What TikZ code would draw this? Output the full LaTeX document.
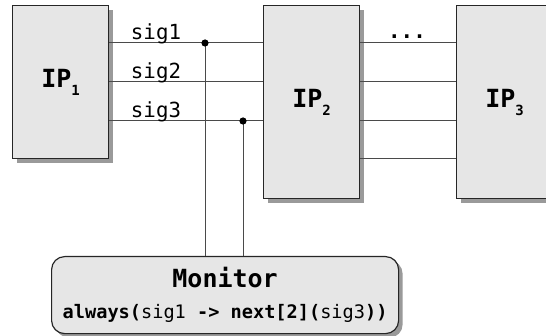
\documentclass[tikz,border=0pt]{standalone}
\usepackage{fontspec}
\setmainfont{DejaVu Sans Mono}
\usetikzlibrary{shadows}

\definecolor{boxfill}{HTML}{E6E6E6}
\definecolor{shade}{HTML}{9A9A9A}
\definecolor{wire}{HTML}{4A4A4A}

\tikzset{
    ipblock/.style={draw=black!85, fill=boxfill, line width=0.6pt, anchor=north west,
        minimum width=48pt, drop shadow={shadow xshift=2pt, shadow yshift=-2pt, fill=shade, opacity=1}},
    monitorbox/.style={ipblock, rounded corners=6.5pt, align=center, inner sep=0pt},
    wireline/.style={draw=wire, line width=0.5pt},
    siglabel/.style={anchor=base, font=\fontsize{10.4}{12}\selectfont, inner sep=0pt}
}

\newcommand{\ipname}[1]{\fontsize{12.5}{14}\selectfont\textbf{IP}\raisebox{-4pt}{\fontsize{7}{8}\selectfont\textbf{#1}}}

\begin{document}
\begin{tikzpicture}[x=0.5pt, y=-0.5pt]
        \useasboundingbox (0,0) rectangle (546,336);

        \node[ipblock, minimum height=76.5pt] (ip1) at (12,5) {\ipname{1}};
        \node[ipblock, minimum height=96.5pt] (ip2) at (263,5) {\ipname{2}};
        \node[ipblock, minimum height=96.5pt] (ip3) at (456,5) {\ipname{3}};
        \node[monitorbox, minimum width=173.5pt, minimum height=38.5pt] (monitor) at (51,256)
            {\fontsize{12.5}{15}\selectfont\textbf{Monitor}\\[3.5pt]
             \fontsize{9.3}{11}\selectfont\textbf{always(}sig1 \textbf{-> next[2](}sig3\textbf{))}};

        % wires between the blocks
        \foreach \y/\lab in {43/sig1, 82/sig2, 121/sig3} {
            \draw[wireline] (ip1.east |- 0,\y) -- (ip2.west |- 0,\y);
            \node[siglabel] (\lab) at (156,\y-3) {\lab};
        }
        \foreach \y in {43, 82, 121, 159}
            \draw[wireline] (ip2.east |- 0,\y) -- (ip3.west |- 0,\y);
        \node[siglabel] (dots) at (407,39) {\textbf{...}};

        % taps into the monitor
        \coordinate (tap1) at (205,43);
        \coordinate (tap2) at (243,121);
        \draw[wireline] (tap1) -- (tap1 |- monitor.north);
        \draw[wireline] (tap2) -- (tap2 |- monitor.north);
        \fill (tap1) circle (1.8pt);
        \fill (tap2) circle (1.8pt);
    \end{tikzpicture}
\end{document}
